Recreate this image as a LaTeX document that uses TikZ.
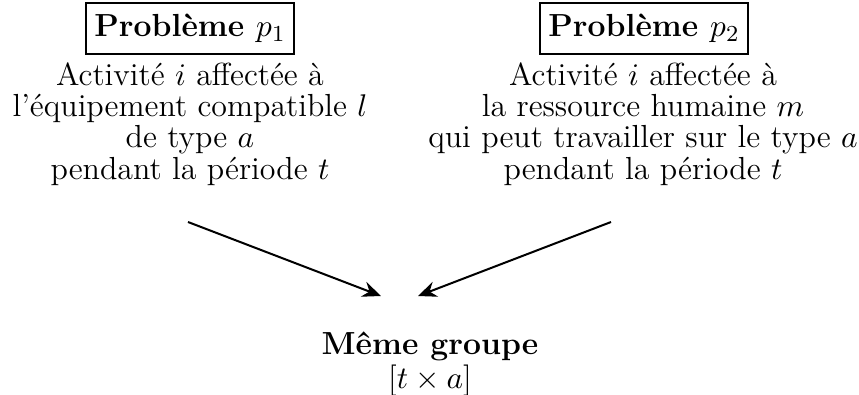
\documentclass[tikz,border=0pt]{standalone}
\usetikzlibrary{arrows.meta}
\begin{document}
\begin{tikzpicture}[x=0.3492pt,y=-0.3492pt,
  txt/.style={align=center,inner sep=0pt,font=\fontsize{11.15}{10.9}\selectfont},
  titlebox/.style={draw,line width=0.75pt,inner xsep=3pt,inner ysep=3.9pt,font=\fontsize{11.15}{13}\selectfont\bfseries},
  conn/.style={-{Stealth[length=6.5pt,width=5.5pt,inset=2.2pt]},line width=0.7pt}]
\useasboundingbox (0,0) rectangle (859,394);
\node[titlebox] (p1) at (190,28.5) {Problème $p_1$};
\node[titlebox] (p2) at (644,28.5) {Problème $p_2$};
\node[txt] (t1) at (190,124) {Activité $i$ affectée à\\l'équipement compatible $l$\\de type $a$\\pendant la période $t$};
\node[txt] (t2) at (643,124) {Activité $i$ affectée à\\la ressource humaine $m$\\qui peut travailler sur le type $a$\\pendant la période $t$};
\node[txt,font=\fontsize{11.15}{11.8}\selectfont] (g) at (430,364) {\textbf{Même groupe}\\$[t\times a]$};
\coordinate (s1) at (188,222);
\coordinate (e1) at (381,296);
\coordinate (s2) at (611,222);
\coordinate (e2) at (418,296);
\draw[conn] (s1) -- (e1);
\draw[conn] (s2) -- (e2);
\end{tikzpicture}
\end{document}
